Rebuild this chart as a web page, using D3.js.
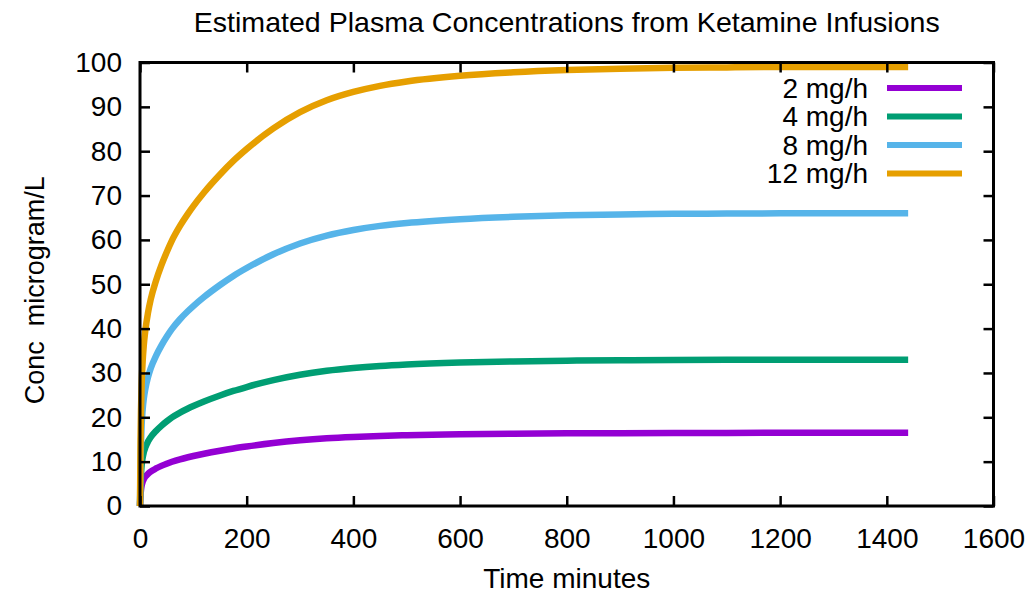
<!DOCTYPE html>
<html>
<head>
<meta charset="utf-8">
<script src="https://cdn.jsdelivr.net/npm/d3@7"></script>
<style>
  html, body { margin: 0; padding: 0; background: #fff; }
  svg { display: block; font-family: "Liberation Sans", Arial, Helvetica, sans-serif; }
</style>
</head>
<body>
<svg id="chart" width="1034" height="593"></svg>
<script>
// Simulated plasma concentration (microgram/L) over 24 h of constant-rate infusion
const timeMinutes = [0, 1, 2, 3, 5, 7, 10, 15, 20, 30, 40, 50, 60, 75, 90, 100, 120, 150, 175, 200,
  250, 300, 350, 400, 450, 500, 600, 700, 800, 900, 1000, 1100, 1200, 1300, 1440];

const conc2 = [0, 2.48, 3.71, 4.54, 5.45, 6.02, 6.60, 7.26, 7.76, 8.46, 9.04, 9.54, 9.98, 10.53, 10.99, 11.27,
  11.78, 12.46, 12.97, 13.41, 14.19, 14.80, 15.25, 15.56, 15.79, 15.96, 16.17, 16.30, 16.38, 16.43, 16.47, 16.48, 16.5, 16.5, 16.5];
const conc4 = [0, 4.95, 7.43, 9.08, 10.89, 12.05, 13.20, 14.52, 15.51, 16.93, 18.08, 19.07, 19.97, 21.05, 21.98, 22.54,
  23.56, 24.92, 25.94, 26.83, 28.38, 29.60, 30.49, 31.12, 31.58, 31.91, 32.34, 32.60, 32.77, 32.87, 32.93, 32.97, 33, 33, 33];
const conc8 = [0, 9.90, 14.85, 18.15, 21.78, 24.09, 26.40, 29.04, 31.02, 33.86, 36.17, 38.15, 39.93, 42.11, 43.96, 45.08,
  47.12, 49.83, 51.88, 53.66, 56.76, 59.20, 60.98, 62.24, 63.16, 63.82, 64.68, 65.21, 65.54, 65.74, 65.87, 65.93, 66, 66, 66];
const conc12 = [0, 14.85, 22.28, 27.23, 32.67, 36.14, 39.60, 43.56, 46.53, 50.79, 54.25, 57.22, 59.90, 63.16, 65.93, 67.62,
  70.69, 74.75, 77.81, 80.49, 85.14, 88.80, 91.48, 93.36, 94.74, 95.73, 97.02, 97.81, 98.31, 98.60, 98.80, 98.90, 99, 99, 99];

const seriesNames = ["2 mg/h", "4 mg/h", "8 mg/h", "12 mg/h"];
const seriesValues = [conc2, conc4, conc8, conc12];
const seriesColors = ["#9400d3", "#009e73", "#56b4e9", "#e69f00"];

const xTicks = [0, 200, 400, 600, 800, 1000, 1200, 1400, 1600];
const yTicks = [0, 10, 20, 30, 40, 50, 60, 70, 80, 90, 100];

const titleText = "Estimated Plasma Concentrations from Ketamine Infusions";
const xLabel = "Time minutes";
const yLabel = "Conc  microgram/L";

(function draw() {
  const svg = d3.select("#chart");
  const plotLeft = 140, plotRight = 993.5, plotTop = 62.5, plotBottom = 506;
  const fontSize = 28;
  const tickLen = 10;

  const x = d3.scaleLinear().domain([0, 1600]).range([plotLeft, plotRight]);
  const y = d3.scaleLinear().domain([0, 100]).range([plotBottom, plotTop]);

  // Curves
  const line = d3.line()
    .x((d, i) => x(timeMinutes[i]))
    .y(d => y(d))
    .curve(d3.curveMonotoneX);

  const plot = svg.append("g");
  seriesValues.forEach((vals, k) => {
    plot.append("path")
      .attr("d", line(vals))
      .attr("fill", "none")
      .attr("stroke", seriesColors[k])
      .attr("stroke-width", 6.5)
      .attr("stroke-linejoin", "round");
  });

  // Axes with inward ticks, mirrored on top and right
  function styleAxis(g) {
    g.select(".domain").remove();
    g.selectAll(".tick line").attr("stroke", "#000").attr("stroke-width", 2.5);
    g.selectAll(".tick text").attr("fill", "#000").attr("font-size", fontSize)
      .attr("font-family", "Liberation Sans, Arial, sans-serif");
  }

  svg.append("g")
    .attr("transform", `translate(0,${plotBottom})`)
    .call(d3.axisBottom(x).tickValues(xTicks).tickFormat(d3.format("d"))
      .tickSizeInner(-tickLen).tickSizeOuter(0).tickPadding(22))
    .call(styleAxis);

  svg.append("g")
    .attr("transform", `translate(0,${plotTop})`)
    .call(d3.axisTop(x).tickValues(xTicks).tickFormat("")
      .tickSizeInner(-tickLen).tickSizeOuter(0))
    .call(styleAxis);

  svg.append("g")
    .attr("transform", `translate(${plotLeft},0)`)
    .call(d3.axisLeft(y).tickValues(yTicks).tickFormat(d3.format("d"))
      .tickSizeInner(-tickLen).tickSizeOuter(0).tickPadding(18))
    .call(styleAxis);

  svg.append("g")
    .attr("transform", `translate(${plotRight},0)`)
    .call(d3.axisRight(y).tickValues(yTicks).tickFormat("")
      .tickSizeInner(-tickLen).tickSizeOuter(0))
    .call(styleAxis);

  // Frame
  svg.append("rect")
    .attr("x", plotLeft).attr("y", plotTop)
    .attr("width", plotRight - plotLeft).attr("height", plotBottom - plotTop)
    .attr("fill", "none").attr("stroke", "#000").attr("stroke-width", 3);

  // Title and axis labels
  svg.append("text")
    .attr("x", (plotLeft + plotRight) / 2).attr("y", 32)
    .attr("text-anchor", "middle").attr("font-size", 28)
    .attr("textLength", 746).attr("lengthAdjust", "spacingAndGlyphs")
    .text(titleText);

  svg.append("text")
    .attr("x", (plotLeft + plotRight) / 2).attr("y", 588)
    .attr("text-anchor", "middle").attr("font-size", fontSize)
    .text(xLabel);

  svg.append("text")
    .attr("transform", `translate(44,${(plotTop + plotBottom) / 2 + 6}) rotate(-90)`)
    .attr("text-anchor", "middle").attr("font-size", 27)
    .style("white-space", "pre")
    .text(yLabel);

  // Legend
  const legend = svg.append("g");
  const legendY0 = 88, legendStep = 28.5;
  seriesNames.forEach((name, k) => {
    const ly = legendY0 + k * legendStep;
    legend.append("text")
      .attr("x", 868).attr("y", ly).attr("dy", "0.35em")
      .attr("text-anchor", "end").attr("font-size", fontSize)
      .text(name);
    legend.append("line")
      .attr("x1", 887).attr("x2", 962)
      .attr("y1", ly).attr("y2", ly)
      .attr("stroke", seriesColors[k]).attr("stroke-width", 6);
  });
})();
</script>
</body>
</html>
